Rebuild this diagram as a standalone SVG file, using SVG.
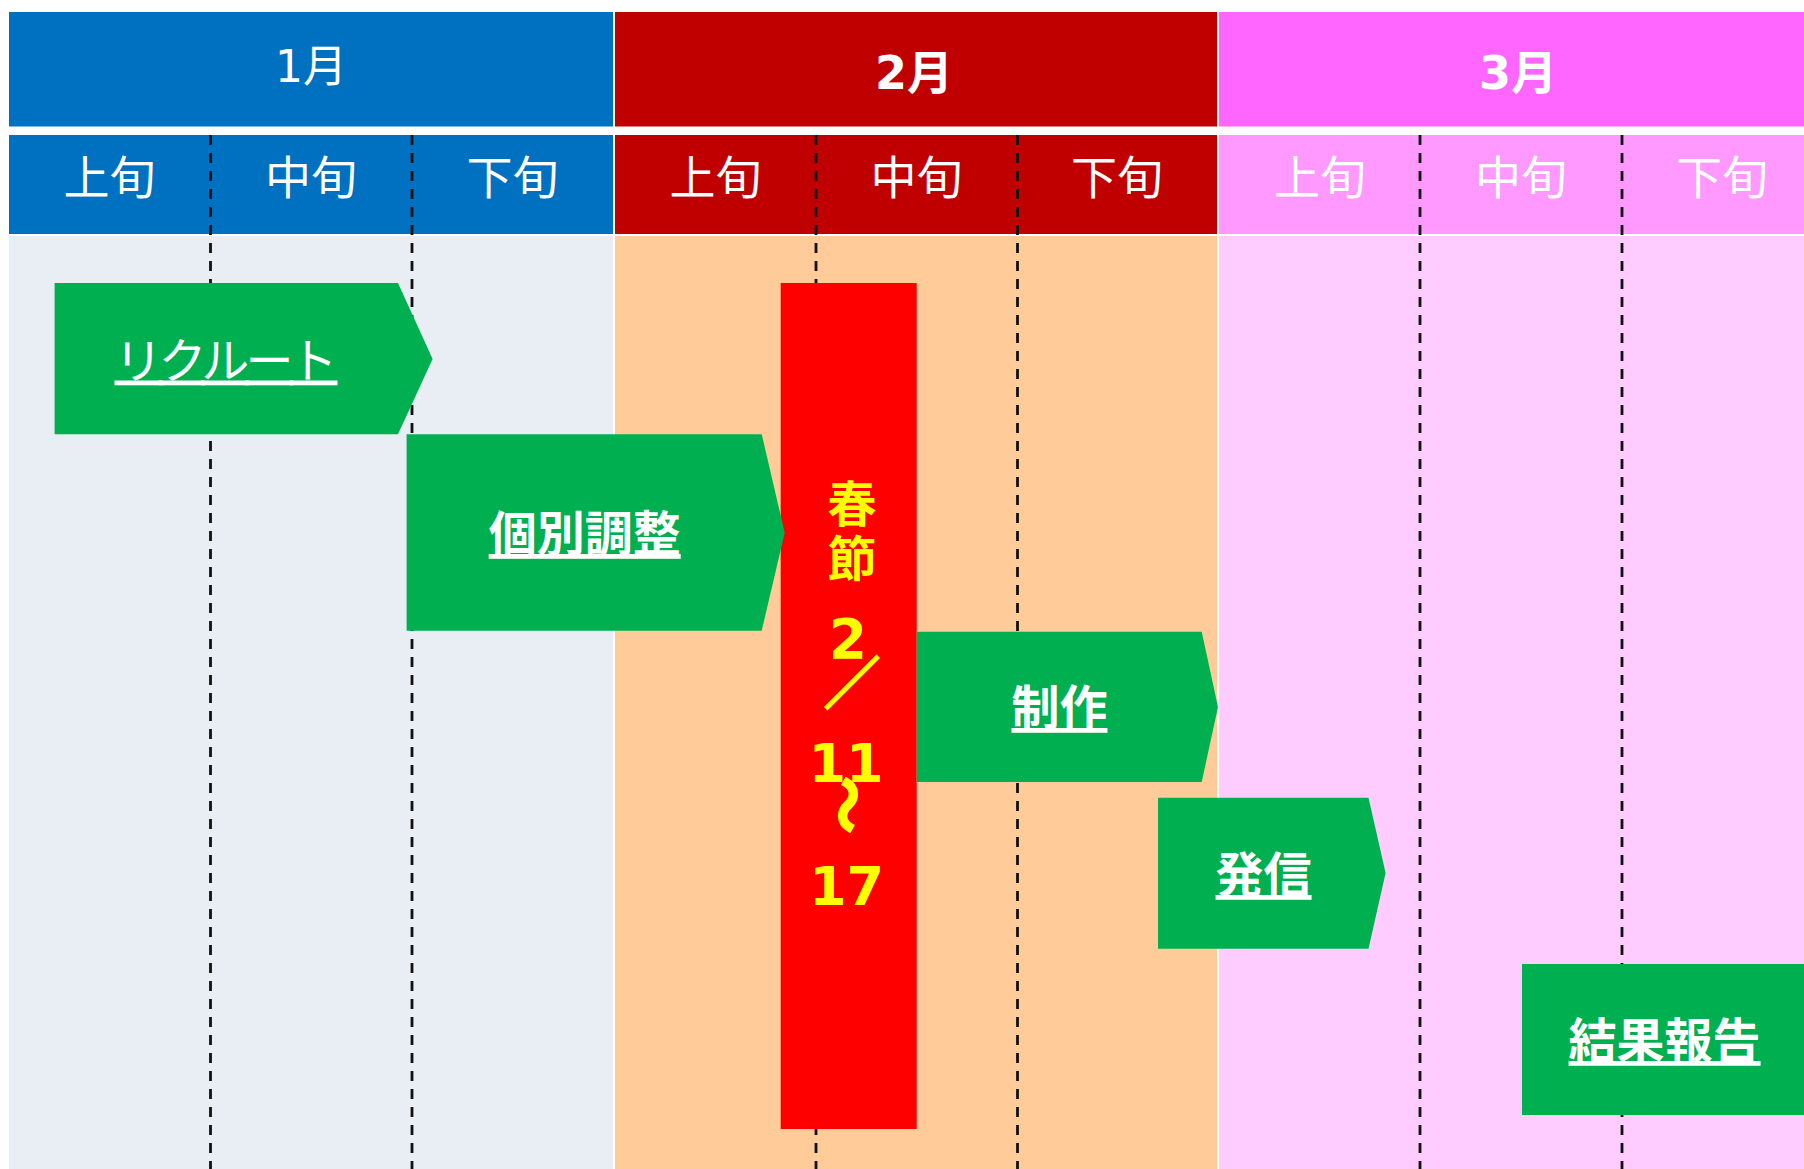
<svg xmlns="http://www.w3.org/2000/svg" width="1804" height="1169" viewBox="0 0 1804 1169">
<style>
.hd{fill:#fff;font-family:"DejaVu Sans","Noto Sans CJK JP",sans-serif;text-anchor:middle}
.sub{fill:#fff;font-family:"Noto Sans CJK JP",sans-serif;font-size:46px;text-anchor:middle}
.grid{stroke:#111;stroke-width:2.8;stroke-dasharray:10 8;fill:none}
.arrow{fill:#00B050}
.lbl{fill:#fff;font-family:"Noto Sans CJK JP",sans-serif;font-size:48px;text-anchor:middle;text-decoration:underline}
.yl{fill:#FFFF00;font-weight:bold;text-anchor:middle}
.thick{stroke:#FFFF00;stroke-width:2.2}
.cjk{font-family:"Noto Sans CJK JP",sans-serif}
.num{font-family:"DejaVu Sans",sans-serif}
</style>
<rect x="0" y="0" width="1804" height="1169" fill="#fff"/>
<g id="jan">
<rect x="9" y="12" width="604" height="114.5" fill="#0070C0"/>
<rect x="9" y="135" width="604" height="99" fill="#0070C0"/>
<rect x="9" y="236" width="604" height="933" fill="#E9EDF4"/>
<text class="hd" x="311" y="82" font-size="44">1月</text>
<text class="sub" x="109.5" y="193.5">上旬</text>
<text class="sub" x="311" y="193.5">中旬</text>
<text class="sub" x="512.5" y="193.5">下旬</text>
</g>
<g id="feb">
<rect x="615" y="12" width="602" height="114.5" fill="#C00000"/>
<rect x="615" y="135" width="602" height="99" fill="#C00000"/>
<rect x="615" y="236" width="602" height="933" fill="#FFCB99"/>
<text class="hd" x="914" y="88.5" font-size="46" font-weight="bold">2月</text>
<text class="sub" x="715.5" y="193.5">上旬</text>
<text class="sub" x="916.5" y="193.5">中旬</text>
<text class="sub" x="1117" y="193.5">下旬</text>
</g>
<g id="mar">
<rect x="1219" y="12" width="600" height="114.5" fill="#FF66FF"/>
<rect x="1219" y="135" width="600" height="99" fill="#FF99FF"/>
<rect x="1219" y="236" width="600" height="933" fill="#FFCCFF"/>
<text class="hd" x="1518" y="88.5" font-size="46" font-weight="bold">3月</text>
<text class="sub" x="1320" y="193.5">上旬</text>
<text class="sub" x="1521" y="193.5">中旬</text>
<text class="sub" x="1722" y="193.5">下旬</text>
</g>
<g id="connectors">
<line class="grid" x1="210.5" y1="135" x2="210.5" y2="1169"/>
<line class="grid" x1="412" y1="135" x2="412" y2="1169"/>
<line class="grid" x1="816" y1="135" x2="816" y2="1169"/>
<line class="grid" x1="1017.5" y1="135" x2="1017.5" y2="1169"/>
<line class="grid" x1="1420" y1="135" x2="1420" y2="1169"/>
<line class="grid" x1="1622" y1="135" x2="1622" y2="1169"/>
</g>
<g id="shunjie">
<rect x="780.7" y="283" width="136" height="846" fill="#FF0000"/>
<text class="yl cjk" x="852" y="522" font-size="49">春</text>
<text class="yl cjk" x="852" y="577" font-size="49">節</text>
<text class="yl num" x="848" y="658" font-size="55">2</text>
<text class="yl cjk thick" x="852" y="704" font-size="56">／</text>
<text class="yl num" x="846" y="782" font-size="54">11</text>
<text class="yl cjk thick" x="851" y="805" font-size="58" dominant-baseline="central" transform="rotate(90 851 805)">～</text>
<text class="yl num" x="846.5" y="905" font-size="54">17</text>
</g>
<g id="recruit">
<polygon class="arrow" points="54.6,283 398,283 432.6,359 398,434.3 54.6,434.3"/>
<text class="lbl" x="226" y="377.5" textLength="223">リクルート</text>
</g>
<g id="kobetsu">
<polygon class="arrow" points="406.6,434.3 761.7,434.3 784.7,532.7 761.7,630.7 406.6,630.7"/>
<text class="lbl" x="584.7" y="551" font-weight="bold">個別調整</text>
</g>
<g id="seisaku">
<polygon class="arrow" points="916.7,631.7 1201.7,631.7 1218,707 1201.7,782 916.7,782"/>
<text class="lbl" x="1059.5" y="725" font-weight="bold">制作</text>
</g>
<g id="hasshin">
<polygon class="arrow" points="1158,797.7 1368.5,797.7 1385.6,873 1368.5,948.7 1158,948.7"/>
<text class="lbl" x="1263.6" y="892" font-weight="bold">発信</text>
</g>
<g id="kekka">
<rect class="arrow" x="1522" y="964" width="300" height="151"/>
<text class="lbl" x="1664.6" y="1058" font-weight="bold">結果報告</text>
</g>
</svg>
